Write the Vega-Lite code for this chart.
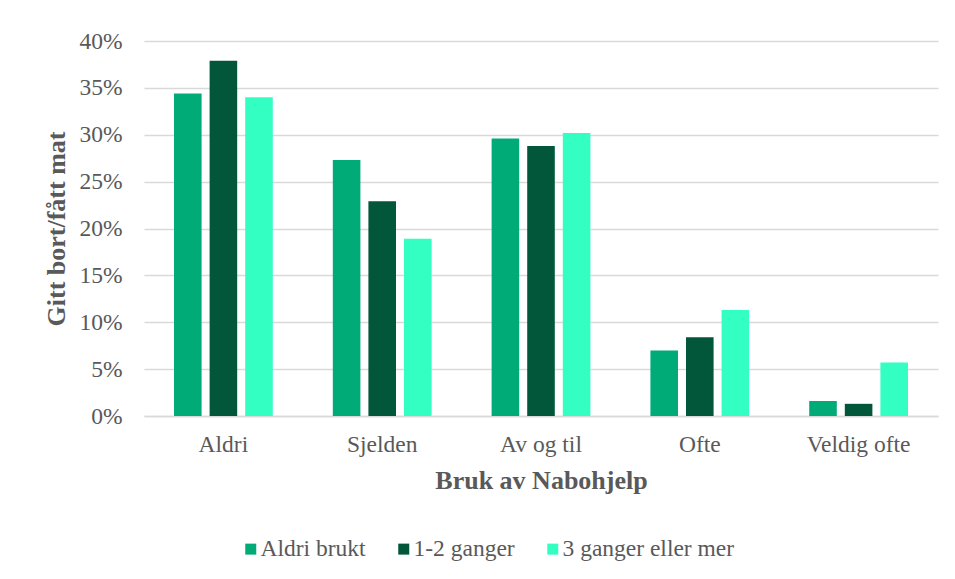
{
  "$schema": "https://vega.github.io/schema/vega-lite/v6.json",
  "width": 794,
  "height": 375,
  "autosize": {"type": "none"},
  "padding": {"left": 144, "top": 41, "right": 17, "bottom": 163},
  "background": "white",
  "config": {
    "view": {"stroke": null},
    "font": "Liberation Serif",
    "axis": {"labelFont": "Liberation Serif", "titleFont": "Liberation Serif", "labelColor": "#595959", "titleColor": "#595959"},
    "legend": {"labelFont": "Liberation Serif", "labelColor": "#595959"}
  },
  "data": {
    "values": [
      {"kategori": "Aldri", "gruppe": "Aldri brukt", "verdi": 0.344},
      {"kategori": "Aldri", "gruppe": "1-2 ganger", "verdi": 0.379},
      {"kategori": "Aldri", "gruppe": "3 ganger eller mer", "verdi": 0.340},
      {"kategori": "Sjelden", "gruppe": "Aldri brukt", "verdi": 0.273},
      {"kategori": "Sjelden", "gruppe": "1-2 ganger", "verdi": 0.229},
      {"kategori": "Sjelden", "gruppe": "3 ganger eller mer", "verdi": 0.189},
      {"kategori": "Av og til", "gruppe": "Aldri brukt", "verdi": 0.296},
      {"kategori": "Av og til", "gruppe": "1-2 ganger", "verdi": 0.288},
      {"kategori": "Av og til", "gruppe": "3 ganger eller mer", "verdi": 0.302},
      {"kategori": "Ofte", "gruppe": "Aldri brukt", "verdi": 0.070},
      {"kategori": "Ofte", "gruppe": "1-2 ganger", "verdi": 0.084},
      {"kategori": "Ofte", "gruppe": "3 ganger eller mer", "verdi": 0.113},
      {"kategori": "Veldig ofte", "gruppe": "Aldri brukt", "verdi": 0.016},
      {"kategori": "Veldig ofte", "gruppe": "1-2 ganger", "verdi": 0.013},
      {"kategori": "Veldig ofte", "gruppe": "3 ganger eller mer", "verdi": 0.057}
    ]
  },
  "mark": {"type": "bar"},
  "encoding": {
    "x": {
      "field": "kategori",
      "type": "nominal",
      "sort": ["Aldri", "Sjelden", "Av og til", "Ofte", "Veldig ofte"],
      "scale": {"paddingInner": 0.378, "paddingOuter": 0.189},
      "axis": {
        "title": "Bruk av Nabohjelp",
        "titleFontSize": 26,
        "titleFontWeight": "bold",
        "titlePadding": 12,
        "labelFontSize": 23.5,
        "labelAngle": 0,
        "labelPadding": 16,
        "ticks": false,
        "domain": true,
        "domainColor": "#d9d9d9",
        "domainWidth": 1.3
      }
    },
    "xOffset": {
      "field": "gruppe",
      "type": "nominal",
      "sort": ["Aldri brukt", "1-2 ganger", "3 ganger eller mer"],
      "scale": {"paddingInner": 0.225, "paddingOuter": 0}
    },
    "y": {
      "field": "verdi",
      "type": "quantitative",
      "scale": {"domain": [0, 0.4], "nice": false},
      "axis": {
        "title": "Gitt bort/fått mat",
        "titleFontSize": 26,
        "titleFontWeight": "bold",
        "titlePadding": 9,
        "values": [0, 0.05, 0.1, 0.15, 0.2, 0.25, 0.3, 0.35, 0.4],
        "format": ".0%",
        "labelFontSize": 23.5,
        "labelPadding": 22,
        "ticks": false,
        "domain": false,
        "grid": true,
        "gridColor": "#d9d9d9",
        "gridWidth": 1.3
      }
    },
    "color": {
      "field": "gruppe",
      "type": "nominal",
      "scale": {
        "domain": ["Aldri brukt", "1-2 ganger", "3 ganger eller mer"],
        "range": ["#00AB78", "#02573B", "#33FFC3"]
      },
      "legend": {
        "title": null,
        "orient": "none",
        "direction": "horizontal",
        "legendX": 95,
        "legendY": 496,
        "symbolType": "square",
        "symbolSize": 121,
        "symbolStrokeWidth": 0,
        "symbolOpacity": 1,
        "labelFont": "Liberation Serif",
        "labelColor": "#595959",
        "labelFontSize": 23.5,
        "labelOffset": -2,
        "columnPadding": 26,
        "labelLimit": 400
      }
    }
  }
}
